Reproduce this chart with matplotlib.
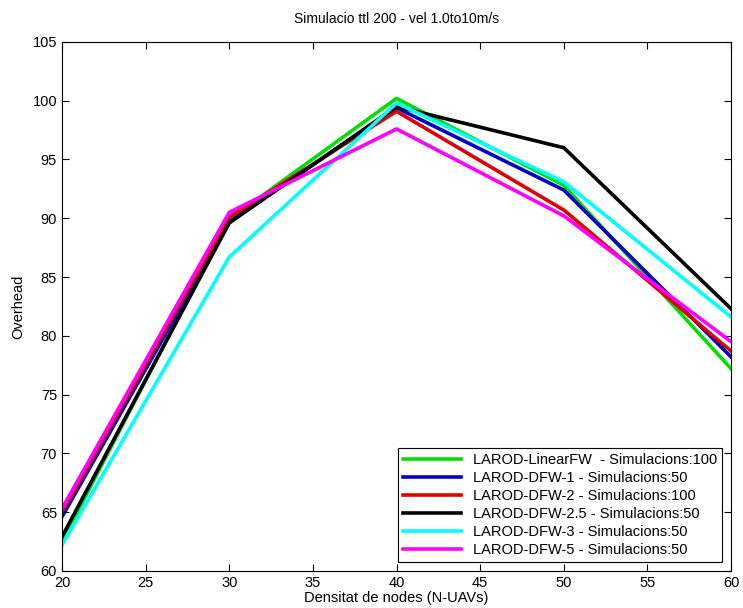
import matplotlib
matplotlib.use("Agg")
import matplotlib.pyplot as plt

plt.rcParams['font.family'] = ['Liberation Sans', 'DejaVu Sans']

x = [20, 30, 40, 50, 60]
labels = ["LAROD-LinearFW  - Simulacions:100",
          "LAROD-DFW-1 - Simulacions:50",
          "LAROD-DFW-2 - Simulacions:100",
          "LAROD-DFW-2.5 - Simulacions:50",
          "LAROD-DFW-3 - Simulacions:50",
          "LAROD-DFW-5 - Simulacions:50"]
green = [62.5, 89.9, 100.2, 92.8, 77.2]
blue = [64.6, 89.7, 99.4, 92.4, 78.2]
red = [65.0, 90.1, 99.1, 90.7, 78.7]
black = [62.9, 89.6, 99.5, 96.0, 82.3]
cyan = [62.2, 86.7, 99.8, 93.1, 81.6]
magenta = [65.3, 90.5, 97.6, 90.2, 79.5]
series = [green, blue, red, black, cyan, magenta]
colors = ['#00e000', '#0000c8', '#e00000', '#000000', '#00ffff', '#ff00ff']

fig = plt.figure(figsize=(7.43, 6.08), dpi=100)
ax = fig.add_axes([0.0834, 0.061, 0.9006, 0.870])
for s, c, l in zip(series, colors, labels):
    ax.plot(x, s, color=c, lw=2.6, label=l)

ax.set_xlim(20, 60)
ax.set_ylim(60, 105)
ax.set_xticks(range(20, 61, 5))
ax.set_yticks(range(60, 106, 5))
ax.tick_params(direction='in', top=True, right=True, labelsize=10.5, length=5)
ax.set_xlabel("Densitat de nodes (N-UAVs)", fontsize=10.5, labelpad=1)
ax.set_ylabel("Overhead", fontsize=10.5, labelpad=5)
ax.set_title("Simulacio ttl 200 - vel 1.0to10m/s", fontsize=10, pad=14)
leg = ax.legend(loc='lower right', fontsize=10.5, fancybox=False, framealpha=1,
                edgecolor='black', borderaxespad=0.6, handlelength=4.0,
                labelspacing=0.28, borderpad=0.35)
leg.get_frame().set_linewidth(0.8)
fig.savefig("out.png", dpi=100)
